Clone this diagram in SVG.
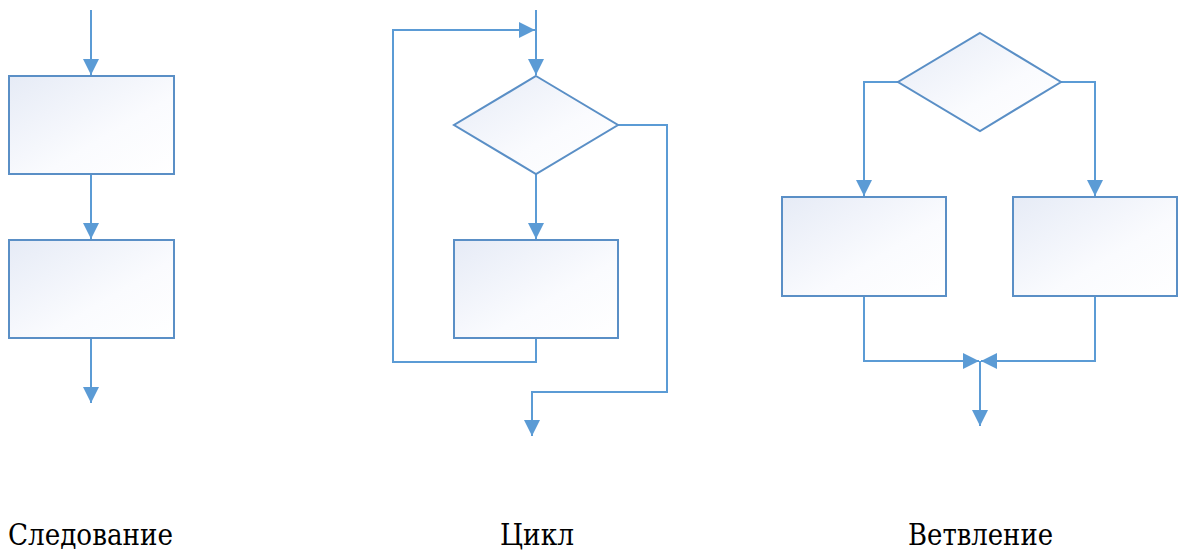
<svg xmlns="http://www.w3.org/2000/svg" width="1181" height="550" viewBox="0 0 1181 550">
<defs>
<linearGradient id="g" x1="0" y1="0" x2="1" y2="1">
<stop offset="0" stop-color="#e6ebf6"/>
<stop offset="0.6" stop-color="#fafbfe"/>
<stop offset="1" stop-color="#ffffff"/>
</linearGradient>
<marker id="ah" markerUnits="userSpaceOnUse" markerWidth="16" markerHeight="16" viewBox="0 0 16 16" refX="16" refY="8" orient="auto">
<path d="M0,0 L16,8 L0,16 Z" fill="#5b9bd5"/>
</marker>
<style>
.n{fill:url(#g);stroke:#5a8fc6;stroke-width:2}
.c{fill:none;stroke:#5b9bd5;stroke-width:2}
.a{marker-end:url(#ah)}
.t{font-family:'DejaVu Serif',serif;font-size:30px;fill:#000}
</style>
</defs>
<g id="connectors">
<path class="c a" d="M91,10 V75"/>
<path class="c a" d="M91,174 V239"/>
<path class="c a" d="M91,338 V403"/>
<path class="c a" d="M536,10 V75"/>
<path class="c a" d="M536,338 V362 H393 V30 H535"/>
<path class="c a" d="M536,174 V239"/>
<path class="c a" d="M618,125 H667 V392 H532 V436"/>
<path class="c a" d="M898,82 H864 V196"/>
<path class="c a" d="M1061,82 H1095 V196"/>
<path class="c a" d="M864,296 V361 H979"/>
<path class="c a" d="M1095,296 V361 H981"/>
<path class="c a" d="M980,361 V426"/>
</g>
<g id="seq-box1"><rect class="n" x="9" y="76" width="165" height="98"/></g>
<g id="seq-box2"><rect class="n" x="9" y="240" width="165" height="98"/></g>
<g id="loop-cond"><polygon class="n" points="536,76 618,125 536,174 454,125"/></g>
<g id="loop-body"><rect class="n" x="454" y="240" width="164" height="98"/></g>
<g id="branch-cond"><polygon class="n" points="980,33 1061,82 980,131 898,82"/></g>
<g id="branch-left"><rect class="n" x="782" y="197" width="164" height="99"/></g>
<g id="branch-right"><rect class="n" x="1013" y="197" width="164" height="99"/></g>
<g id="labels">
<text class="t" x="8" y="545" textLength="165" lengthAdjust="spacingAndGlyphs">Следование</text>
<text class="t" x="500" y="545" textLength="74" lengthAdjust="spacingAndGlyphs">Цикл</text>
<text class="t" x="908" y="545" textLength="145" lengthAdjust="spacingAndGlyphs">Ветвление</text>
</g>
</svg>
